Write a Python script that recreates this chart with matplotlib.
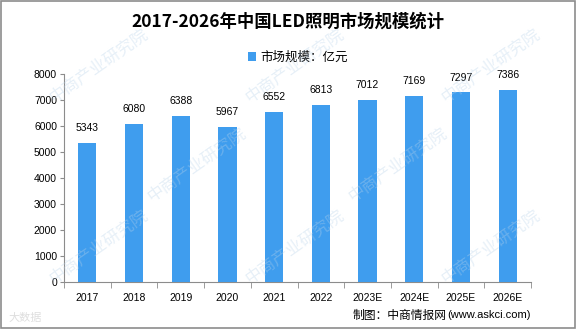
import matplotlib
matplotlib.use("Agg")
import matplotlib.pyplot as plt
from matplotlib.patches import Rectangle

categories = ["2017", "2018", "2019", "2020", "2021", "2022", "2023E", "2024E", "2025E", "2026E"]
values = [5343, 6080, 6388, 5967, 6552, 6813, 7012, 7169, 7297, 7386]
yticks = [0, 1000, 2000, 3000, 4000, 5000, 6000, 7000, 8000]

plt.rcParams['font.family'] = ['Noto Sans CJK SC', 'DejaVu Sans']
bar_color = "#3F9DEE"
axis_color = "#8C8C8C"

fig = plt.figure(figsize=(5.76, 3.29), dpi=100)
ax = fig.add_axes([64/576, 1-282/329, (531-64)/576, (282-74)/329])

x = list(range(len(categories)))
bars = ax.bar(x, values, width=0.39, color=bar_color, zorder=3, label="市场规模：亿元")
for xi, v in zip(x, values):
    ax.annotate(str(v), (xi, v), xytext=(0, 7), textcoords="offset points",
                ha="center", va="bottom", fontsize=7.5, family="Liberation Sans")

ax.set_xlim(-0.5, len(categories) - 0.5)
ax.set_ylim(0, 8000)
ax.set_yticks(yticks)
ax.set_yticklabels([str(t) for t in yticks], family="Liberation Sans", fontsize=7.5)
ax.set_xticks(x)
ax.set_xticklabels(categories, family="Liberation Sans", fontsize=7.5)
ax.tick_params(axis="x", length=0, pad=8)
ax.tick_params(axis="y", length=3, color=axis_color, pad=2)
ax.set_xticks([i - 0.5 for i in range(len(categories) + 1)], minor=True)
ax.tick_params(axis="x", which="minor", length=4, color=axis_color)
for s in ["top", "right"]:
    ax.spines[s].set_visible(False)
for s in ["left", "bottom"]:
    ax.spines[s].set_color(axis_color)
    ax.spines[s].set_linewidth(0.8)

fig.text(0.5, 1-22/329, "2017-2026年中国LED照明市场规模统计", ha="center", va="center",
         fontsize=12.5, fontweight="bold")
ax.legend(loc="center", bbox_to_anchor=(0.5, (1-57/329 - (1-282/329)) / ((282-74)/329)),
          frameon=False, fontsize=9, handlelength=0.7, handleheight=0.7, handletextpad=0.3,
          borderaxespad=0)

fig.text(447/576, 1-315/329, "制图：中商情报网", ha="right", va="center", fontsize=8.5)
fig.text(447/576, 1-315/329, "(www.askci.com)", ha="left", va="center", fontsize=8,
         family="Liberation Sans")

# faint watermarks
wm_pos = [(0.08, 0.80), (0.42, 0.80), (0.76, 0.80),
          (0.25, 0.50), (0.60, 0.50),
          (0.08, 0.25), (0.42, 0.25), (0.76, 0.25)]
for wx, wy in wm_pos:
    fig.text(wx, wy, "中商产业研究院", rotation=35, fontsize=12, color="#B9D3EA", alpha=0.35,
             ha="left", va="center", zorder=0)
fig.text(8/576, 1-318/329, "大数据", fontsize=8, color="#C8C8C8", alpha=0.6, va="center")

fig.patches.append(Rectangle((0.001, 0.002), 0.997, 0.995, transform=fig.transFigure,
                             fill=False, edgecolor="#8C8C8C", linewidth=1.2))

fig.savefig("out.png", dpi=100)
